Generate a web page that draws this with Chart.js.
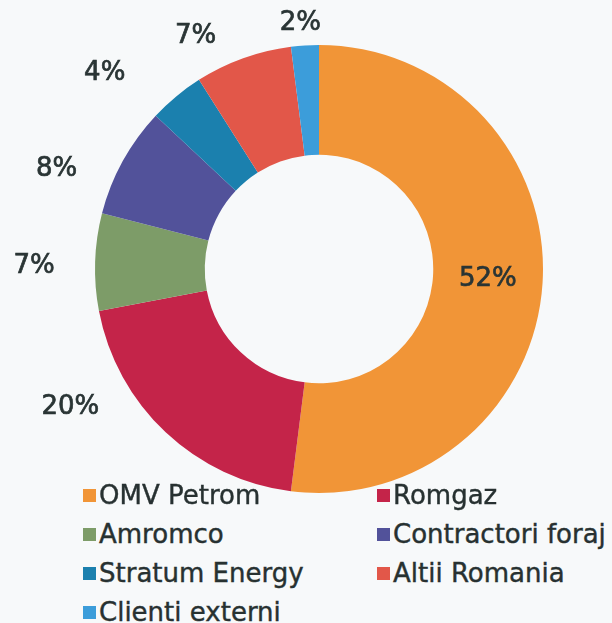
<!DOCTYPE html>
<html>
<head>
<meta charset="utf-8">
<script src="https://cdn.jsdelivr.net/npm/chart.js@4"></script>
<style>
  body { margin: 0; background: #f7f9fa; }
  #wrap { position: relative; width: 612px; height: 623px; overflow: hidden; }
  #pie { position: absolute; left: 0; top: 0; }
  #legend { position: absolute; left: 0; top: 0; font-family: "DejaVu Sans", sans-serif; font-size: 26px; color: #273131; -webkit-text-stroke: 0.4px #273131; }
  .item { position: absolute; height: 30px; display: flex; align-items: center; white-space: nowrap; }
  .box { width: 13px; height: 13px; margin-right: 3px; }
</style>
</head>
<body>
<div id="wrap">
  <canvas id="pie" width="612" height="500"></canvas>
  <div id="legend"></div>
</div>
<script>
'use strict';

// date
const labels = ['OMV Petrom', 'Romgaz', 'Amromco', 'Contractori foraj', 'Stratum Energy', 'Altii Romania', 'Clienti externi'];
const shares = [52, 20, 7, 8, 4, 7, 2];
const colors = ['#f19537', '#c42449', '#7d9c68', '#52529a', '#1b80ae', '#e25749', '#3c9dda'];

// mutari etichete (stil Excel)
const labelNudge = [[0, 0], [-68, -54], [-21, 6], [-31, 27], [-46, 8], [-34, 16], [-2, 18]];

const pctLabels = {
  id: 'pctLabels',
  afterDatasetsDraw(chart) {
    const ctx = chart.ctx;
    const meta = chart.getDatasetMeta(0);
    ctx.save();
    ctx.font = '26px "DejaVu Sans", sans-serif';
    ctx.fillStyle = '#2a3535';
    ctx.strokeStyle = '#2a3535';
    ctx.lineWidth = 0.7;
    ctx.textAlign = 'center';
    ctx.textBaseline = 'middle';
    meta.data.forEach(function(arc, i) {
      const p = arc.getProps(['x', 'y', 'startAngle', 'endAngle', 'innerRadius', 'outerRadius'], true);
      const mid = (p.startAngle + p.endAngle) / 2;
      let r;
      if (i === 0) {
        r = (p.innerRadius + p.outerRadius) / 2;
      } else {
        r = p.outerRadius + 40;
      }
      const x = p.x + Math.cos(mid) * r + labelNudge[i][0];
      const y = p.y + Math.sin(mid) * r + labelNudge[i][1];
      ctx.fillText(shares[i] + '%', x, y);
      ctx.strokeText(shares[i] + '%', x, y);
    });
    ctx.restore();
  }
};

new Chart(document.getElementById('pie').getContext('2d'), {
  type: 'doughnut',
  data: {
    labels: labels,
    datasets: [{
      data: shares,
      backgroundColor: colors,
      borderWidth: 0
    }]
  },
  options: {
    responsive: false,
    animation: false,
    cutout: '51%',
    layout: { padding: { top: 45, bottom: 7, left: 26, right: 0 } },
    plugins: {
      legend: { display: false },
      tooltip: { enabled: false }
    }
  },
  plugins: [pctLabels]
});

// legenda pe doua coloane
const legend = document.getElementById('legend');
labels.forEach(function(name, i) {
  const item = document.createElement('div');
  item.className = 'item';
  item.style.left = (i % 2 === 0 ? 83 : 377) + 'px';
  item.style.top = (495 - 15 + Math.floor(i / 2) * 39) + 'px';
  const box = document.createElement('span');
  box.className = 'box';
  box.style.background = colors[i];
  const txt = document.createElement('span');
  txt.textContent = name;
  item.appendChild(box);
  item.appendChild(txt);
  legend.appendChild(item);
});
</script>
</body>
</html>
